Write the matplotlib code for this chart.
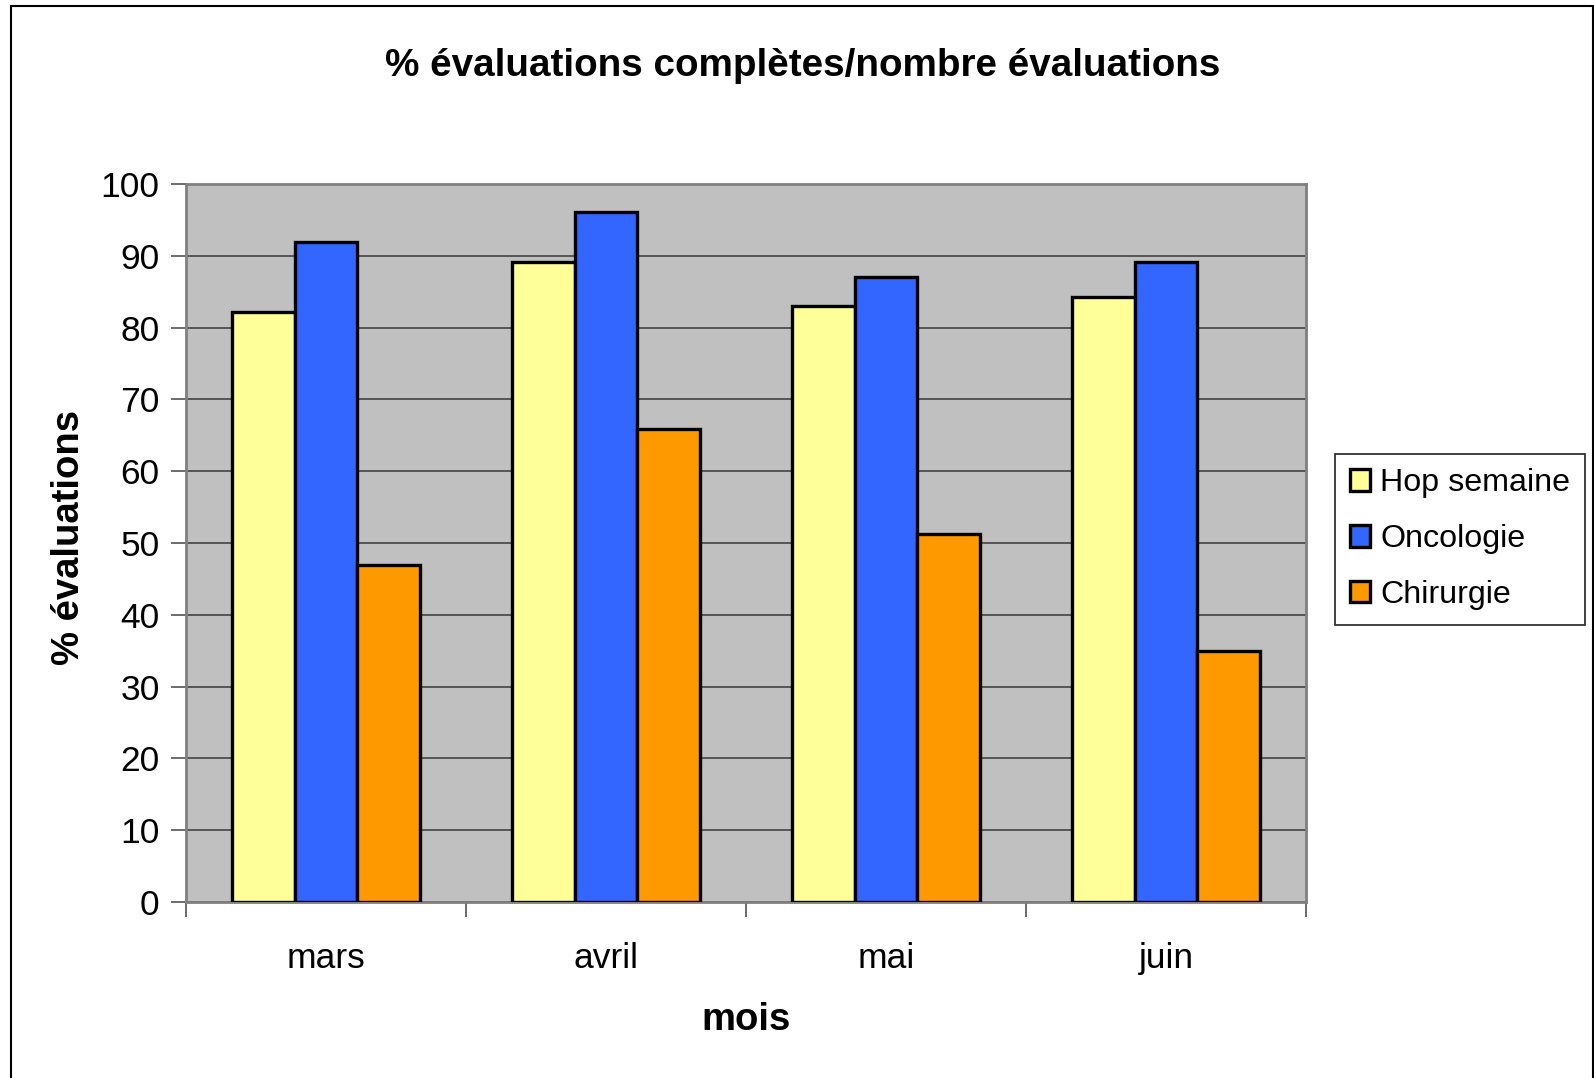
import numpy as np
import matplotlib
matplotlib.use("Agg")
import matplotlib.pyplot as plt
from matplotlib.patches import Rectangle

plt.rcParams['font.family'] = ['Liberation Sans', 'DejaVu Sans']

mois = ["mars", "avril", "mai", "juin"]
hop_semaine = [82.2, 89.2, 83.0, 84.2]
oncologie = [91.9, 96.1, 87.0, 89.2]
chirurgie = [47.0, 65.9, 51.2, 34.9]
series = ["Hop semaine", "Oncologie", "Chirurgie"]
colors = ["#FFFF99", "#3366FF", "#FF9900"]

W, H = 1594, 1078
fig = plt.figure(figsize=(W / 100, H / 100), dpi=100)
fig.patch.set_facecolor("white")

# outer frame of the chart
fig.add_artist(Rectangle((11 / W, -0.01), (1593 - 11) / W, 1 - 6 / H + 0.01,
                         transform=fig.transFigure, fill=False,
                         edgecolor="black", linewidth=1.5))

ax = fig.add_axes([186 / W, 1 - 902 / H, (1306 - 186) / W, (902 - 184) / H])
ax.set_facecolor("#C0C0C0")

x = np.arange(len(mois))
w = 0.2233
for i, (vals, name, col) in enumerate(zip([hop_semaine, oncologie, chirurgie], series, colors)):
    ax.bar(x + (i - 1) * w, vals, width=w, color=col, edgecolor="black",
           linewidth=2.4, label=name, zorder=3)

ax.set_xlim(-0.5, len(mois) - 0.5)
ax.set_ylim(0, 100)
ax.set_yticks(range(0, 101, 10))
ax.yaxis.grid(True, color="#4d4d4d", linewidth=1.3, zorder=1)
ax.set_axisbelow(True)

ax.set_xticks(np.arange(-0.5, len(mois), 1.0))
ax.set_xticklabels([])
ax.set_xticks(x, minor=True)
ax.set_xticklabels(mois, minor=True)
ax.tick_params(axis="x", which="major", direction="out", length=11, width=1.3, color="#606060")
ax.tick_params(axis="x", which="minor", length=0, pad=29, labelsize=25.5)
ax.tick_params(axis="y", direction="out", length=11, width=1.3, color="#606060", labelsize=25.5, pad=8)

for s in ax.spines.values():
    s.set_color("#808080")
    s.set_linewidth(2)

fig.text(803 / W, 1 - 66 / H, "% évaluations complètes/nombre évaluations",
         ha="center", va="center", fontsize=27.8, fontweight="bold")
fig.text(746 / W, 1 - 1020 / H, "mois", ha="center", va="center",
         fontsize=27.5, fontweight="bold")
fig.text(69 / W, 1 - 537 / H, "% évaluations", ha="center", va="center",
         fontsize=27.5, fontweight="bold", rotation=90)

leg = fig.legend(loc="upper left", bbox_to_anchor=(1335 / W, 1 - 454 / H),
                 fontsize=23.2, frameon=True, fancybox=False, edgecolor="black",
                 handlelength=0.65, handleheight=0.65, handletextpad=0.3,
                 borderpad=0.45, borderaxespad=0, labelspacing=0.8)
leg.get_frame().set_linewidth(1.3)

fig.savefig("out.png", dpi=100)
